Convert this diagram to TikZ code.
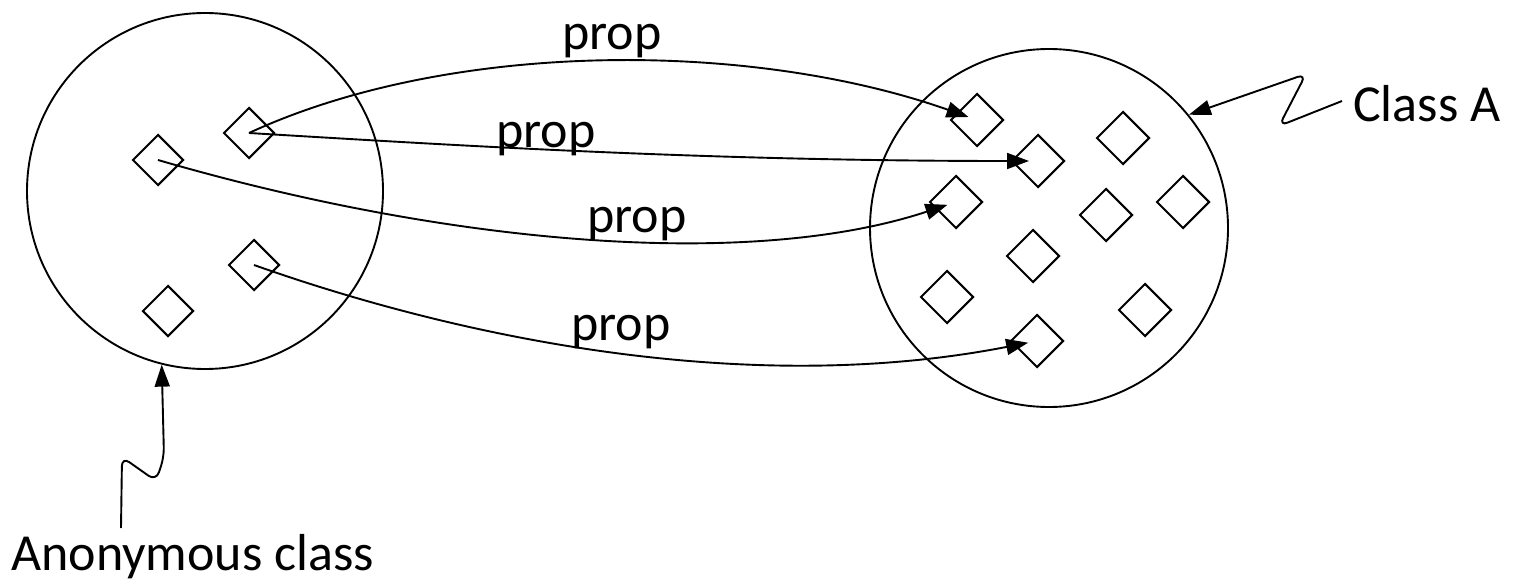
\documentclass[tikz,border=0pt]{standalone}
\usepackage{fontspec}
\setmainfont{Carlito}
\usetikzlibrary{shapes.geometric,arrows.meta}
\begin{document}
\begin{tikzpicture}[x=1pt,y=-1pt,
  dia/.style={draw, shape=diamond, aspect=1, minimum width=51pt, minimum height=51pt, inner sep=0pt, line width=2pt},
  rdia/.style={dia, minimum width=53pt, minimum height=53pt},
  big/.style={draw, circle, minimum size=356pt, inner sep=0pt, line width=1.9pt},
  arr/.style={line width=1.9pt, -{Triangle[length=22pt,width=16pt]}, shorten >=9pt},
  ptr/.style={line width=1.9pt, -{Triangle[length=22pt,width=15pt]}, rounded corners=9pt},
  lbl/.style={font=\fontsize{52}{60}\selectfont, inner sep=0pt}
]
\useasboundingbox (0,0) rectangle (1515,583);
% circles
\node[big] (L) at (205,191) {};
\node[big, minimum size=358pt] (R) at (1049,228) {};
% left diamonds
\node[dia] (D1) at (158,160) {};
\node[dia] (D2) at (249,133) {};
\node[dia] (D3) at (254,265) {};
\node[dia] (D4) at (168,311) {};
% right diamonds
\node[rdia] (R1) at (977,120) {};
\node[rdia] (R2) at (1038,161) {};
\node[rdia] (R3) at (956,202) {};
\node[rdia] (R4) at (1123,138) {};
\node[rdia] (R5) at (1106,215) {};
\node[rdia] (R6) at (1183,202) {};
\node[rdia] (R7) at (1033,256) {};
\node[rdia] (R8) at (947,297) {};
\node[rdia] (R9) at (1145,310) {};
\node[rdia] (R10) at (1037,341) {};
% arrows
\draw[arr] (D2.center) .. controls (450,40) and (750,40) .. (R1.center);
\draw[arr] (D2.center) .. controls (450,145) and (700,161) .. (R2.center);
\draw[arr] (D1.center) .. controls (450,245) and (750,270) .. (R3.center);
\draw[arr] (D3.center) .. controls (480,345) and (760,395) .. (R10.center);
% labels
\node[lbl, anchor=base] (p1) at (612,50) {prop};
\node[lbl, anchor=base] (p2) at (546,147) {prop};
\node[lbl, anchor=base] (p3) at (637,232) {prop};
\node[lbl, anchor=base] (p4) at (621,340) {prop};
\node[lbl, anchor=base west] (ca) at (1353,122) {Class A};
\node[lbl, anchor=base west] (an) at (11,570) {Anonymous class};
% pointers
\coordinate (cs) at (1342,101);
\draw[ptr] (cs) -- (1279,126) -- (1306,74) -- (R.39);
\coordinate (as) at (121,528);
\draw[ptr] (as) -- (122,457) -- (156,481) -- (164,457) -- (L.256);
\end{tikzpicture}
\end{document}
